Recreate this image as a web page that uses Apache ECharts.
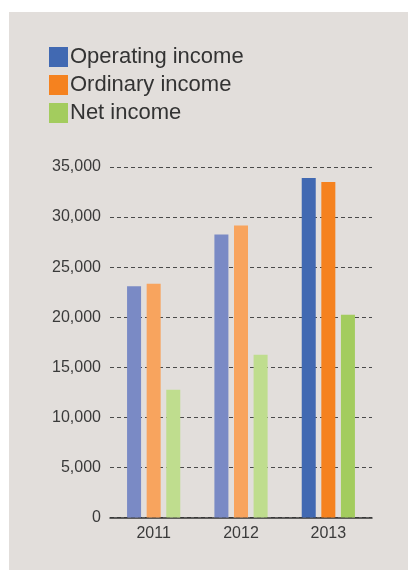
<!DOCTYPE html>
<html>
<head>
<meta charset="utf-8">
<script src="https://cdn.jsdelivr.net/npm/echarts@6/dist/echarts.min.js"></script>
<style>
  html, body { margin: 0; padding: 0; background: #ffffff; }
  #panel { position: absolute; left: 9px; top: 12px; width: 399px; height: 558px; background: #e2dedb; }
  #chart { position: absolute; left: 0; top: 0; width: 408px; height: 570px; }
</style>
</head>
<body>
<div id="panel"></div>
<div id="chart"></div>
<script>
// Fiscal years and results (millions of yen)
const years = ['2011', '2012', '2013'];
const operatingIncome = [23100, 28250, 33900];
const ordinaryIncome = [23350, 29150, 33500];
const netIncome = [12750, 16250, 20250];

// Full colour for the latest year, muted tint for earlier years
const palette = {
  operating: { full: '#4169b2', muted: '#7a8ac5' },
  ordinary: { full: '#f5821f', muted: '#f8a45e' },
  net: { full: '#a3cc5e', muted: '#bfdd8e' }
};

function shaded(values, colors) {
  return values.map((v, i) => ({
    value: v,
    itemStyle: { color: i === values.length - 1 ? colors.full : colors.muted }
  }));
}

const chart = echarts.init(document.getElementById('chart'), null, { renderer: 'canvas' });

chart.setOption({
  backgroundColor: 'transparent',
  animation: false,
  textStyle: { fontFamily: 'Liberation Sans, Arial, sans-serif' },
  legend: {
    orient: 'vertical',
    left: 44,
    top: 41,
    itemWidth: 19,
    itemHeight: 20,
    itemGap: 6,
    icon: 'rect',
    textStyle: { fontSize: 22, color: '#333333', lineHeight: 20, padding: [0, 0, 0, -3] },
    data: ['Operating income', 'Ordinary income', 'Net income']
  },
  grid: { left: 110, right: 36, top: 167, bottom: 52.5, containLabel: false },
  xAxis: {
    type: 'category',
    data: years,
    axisLine: { lineStyle: { color: '#333333', width: 1.5 } },
    axisTick: { show: false },
    axisLabel: { fontSize: 16, color: '#3a3a3a', margin: 8 }
  },
  yAxis: {
    type: 'value',
    min: 0,
    max: 35000,
    interval: 5000,
    axisLine: { show: false },
    axisTick: { show: false },
    axisLabel: {
      fontSize: 16,
      color: '#3a3a3a',
      margin: 9,
      formatter: v => v.toLocaleString('en-US')
    },
    splitLine: { lineStyle: { color: '#4a4a4a', type: [4, 3], width: 1 } }
  },
  series: [
    {
      name: 'Operating income', type: 'bar', barWidth: 14, barGap: '40%',
      itemStyle: { color: palette.operating.full },
      data: shaded(operatingIncome, palette.operating)
    },
    {
      name: 'Ordinary income', type: 'bar', barWidth: 14, barGap: '40%',
      itemStyle: { color: palette.ordinary.full },
      data: shaded(ordinaryIncome, palette.ordinary)
    },
    {
      name: 'Net income', type: 'bar', barWidth: 14, barGap: '40%',
      itemStyle: { color: palette.net.full },
      data: shaded(netIncome, palette.net)
    }
  ]
});
</script>
</body>
</html>
